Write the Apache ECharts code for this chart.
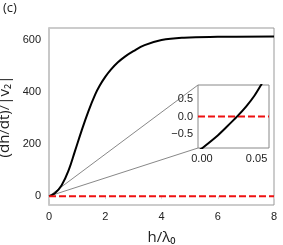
<!DOCTYPE html>
<html><head><meta charset="utf-8">
<script src="https://cdn.jsdelivr.net/npm/echarts@6/dist/echarts.min.js"></script>
<style>html,body{margin:0;padding:0;background:#fff}#c{width:283px;height:245px}</style>
</head><body><div id="c"></div>
<script>
// Main curve: (dh/dt)/|v2| vs h/lambda0
const mainH = [0, 0.2, 0.45, 0.7, 0.92, 1.16, 1.4, 1.64, 1.8, 2.0, 2.2, 2.45, 2.7, 3.0, 3.4, 4.0, 4.8, 6.0, 8.0];
const mainV = [0, 10, 42, 100, 172, 252, 326, 390, 424, 458, 486, 514, 536, 557, 580, 600, 609, 612, 613];
// Inset curve (zoom near origin)
const insetH = [-0.002, 0.0, 0.0134, 0.0225, 0.0325, 0.0406, 0.0482, 0.0543, 0.058];
const insetV = [-0.95, -0.91, -0.57, -0.30, 0.01, 0.29, 0.60, 0.91, 1.12];
// Zero reference lines
const zeroLineMainH = [0, 8];
const zeroLineInsetH = [-0.0036, 0.0614];
// Tick labels
const mainXTicks = [0, 2, 4, 6, 8];
const mainYTicks = [0, 200, 400, 600];
const insetXTicks = [0.00, 0.05];
const insetYTicks = [-0.5, 0.0, 0.5];

const tickFont = {fontFamily: 'Liberation Sans, Arial, sans-serif', fontSize: 11, color: '#222'};
const chart = echarts.init(document.getElementById('c'), null, {renderer: 'canvas'});
const fmtMinus = (v, d) => (v < 0 ? '\u2212' : '') + Math.abs(v).toFixed(d);

chart.setOption({
  animation: false,
  backgroundColor: '#fff',
  grid: [
    {left: 49, right: 9, top: 28, bottom: 40, containLabel: false, outerBoundsMode: 'none', show: true, borderColor: '#999', borderWidth: 1, backgroundColor: 'transparent', z: 0},
    {left: 198, top: 85, width: 71, height: 63, containLabel: false, outerBoundsMode: 'none', show: true, borderColor: '#888', borderWidth: 1, backgroundColor: '#fff', z: 10}
  ],
  xAxis: [
    {gridIndex: 0, type: 'value', min: 0, max: 8, interval: 2,
     axisLine: {show: false}, splitLine: {show: false},
     axisTick: {show: true, length: 3, lineStyle: {color: '#ddd'}},
     axisLabel: Object.assign({margin: 6, customValues: mainXTicks}, tickFont),
     name: 'h/λ\u2080', nameLocation: 'middle', nameGap: 25,
     nameTextStyle: {fontFamily: 'Open Sans, Noto Sans, sans-serif', fontSize: 15, color: '#222'}},
    {gridIndex: 1, type: 'value', min: zeroLineInsetH[0], max: zeroLineInsetH[1],
     axisLine: {show: false}, splitLine: {show: false}, axisTick: {show: false},
     axisLabel: Object.assign({margin: 5, customValues: insetXTicks, formatter: v => fmtMinus(v, 2)}, tickFont), z: 11}
  ],
  yAxis: [
    {gridIndex: 0, type: 'value', min: -34, max: 646,
     axisLine: {show: true, lineStyle: {color: '#c8c8c8', width: 2}}, splitLine: {show: false},
     axisTick: {show: false},
     axisLabel: Object.assign({margin: 8, customValues: mainYTicks}, tickFont),
     name: '(dh/dt)/|v\u2082|', nameLocation: 'middle', nameGap: 32, nameRotate: 90,
     nameTextStyle: {fontFamily: 'Open Sans, Noto Sans, sans-serif', fontSize: 15, color: '#222'}},
    {gridIndex: 1, type: 'value', min: -0.9, max: 0.9,
     axisLine: {show: false}, splitLine: {show: false}, axisTick: {show: false},
     axisLabel: Object.assign({margin: 5, customValues: insetYTicks, formatter: v => fmtMinus(v, 1)}, tickFont), z: 11}
  ],
  series: [
    {type: 'line', xAxisIndex: 0, yAxisIndex: 0, data: mainH.map((h, i) => [h, mainV[i]]),
     smooth: 0.4, showSymbol: false, lineStyle: {color: '#000', width: 2}, z: 2},
    {type: 'line', xAxisIndex: 0, yAxisIndex: 0, data: zeroLineMainH.map(h => [h, 0]),
     showSymbol: false, lineStyle: {color: '#ee1111', width: 2, type: [7, 3]}, z: 3},
    {type: 'line', xAxisIndex: 1, yAxisIndex: 1, data: zeroLineInsetH.map(h => [h, 0]),
     showSymbol: false, lineStyle: {color: '#ee1111', width: 2, type: [7, 3]}, z: 12},
    {type: 'line', xAxisIndex: 1, yAxisIndex: 1, data: insetH.map((h, i) => [h, insetV[i]]),
     smooth: 0.3, showSymbol: false, lineStyle: {color: '#000', width: 2}, z: 13, clip: true}
  ]
});

// Connector lines (mark_inset style) from the zoom region at origin to inset corners
const o = chart.convertToPixel({gridIndex: 0}, [0, 0]);
const tl = chart.convertToPixel({gridIndex: 1}, [zeroLineInsetH[0], 0.9]);
const bl = chart.convertToPixel({gridIndex: 1}, [zeroLineInsetH[0], -0.9]);
chart.setOption({
  graphic: [
    {type: 'line', shape: {x1: o[0], y1: o[1], x2: tl[0], y2: tl[1]}, style: {stroke: '#888', lineWidth: 1}, z: 1},
    {type: 'line', shape: {x1: o[0], y1: o[1], x2: bl[0], y2: bl[1]}, style: {stroke: '#888', lineWidth: 1}, z: 1},
    {type: 'text', left: 3, top: 2, style: {text: '(c)', font: '13px "Open Sans", "Noto Sans", sans-serif', fill: '#222'}}
  ]
});
</script></body></html>
